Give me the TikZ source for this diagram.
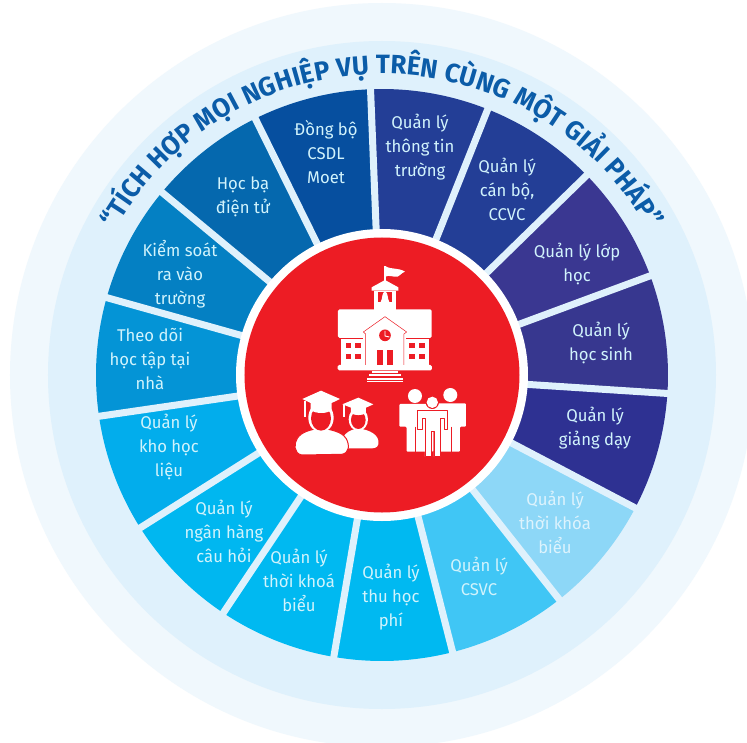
\documentclass[tikz,border=0pt]{standalone}
\usepackage{fontspec}
\usetikzlibrary{decorations.text}
\setmainfont{Fira Sans}
\newfontfamily\labfont[FakeStretch=0.98]{Fira Sans}
\newfontfamily\titlefont[FakeStretch=0.98]{Fira Sans}
\definecolor{ringA}{HTML}{F0F8FD}
\definecolor{ringB}{HTML}{DFF1FC}
\definecolor{redc}{HTML}{ED1C24}
\definecolor{titlec}{HTML}{0B5CA8}
\definecolor{c0}{HTML}{233E96}
\definecolor{c1}{HTML}{233E96}
\definecolor{c2}{HTML}{3A3791}
\definecolor{c3}{HTML}{37378F}
\definecolor{c4}{HTML}{2E3192}
\definecolor{c5}{HTML}{8DD7F7}
\definecolor{c6}{HTML}{40C6F5}
\definecolor{c7}{HTML}{00B9F1}
\definecolor{c8}{HTML}{00B9F1}
\definecolor{c9}{HTML}{00B7F0}
\definecolor{c10}{HTML}{02ADEC}
\definecolor{c11}{HTML}{0494D6}
\definecolor{c12}{HTML}{0480C3}
\definecolor{c13}{HTML}{0568AE}
\definecolor{c14}{HTML}{064F9F}
\tikzset{
  lab/.style={text=#1,font=\labfont\fontsize{17}{24}\selectfont,align=center,inner sep=0pt},
  lab/.default={white!82!c7},
  ico/.style={fill=white,draw=none},
  icored/.style={fill=redc,draw=none}
}
\begin{document}
\begin{tikzpicture}[x=1pt,y=1pt]
\path[use as bounding box,fill=white] (-382,-367) rectangle (365,375);
\begin{scope}
\clip (-382,-367) rectangle (365,375);
\fill[ringA] (0,0) circle (372);
\fill[ringB] (0,0) circle (334);
\end{scope}
% wedges
\foreach \k in {0,...,14}{
  \pgfmathsetmacro{\sa}{92.3-24*\k}
  \pgfmathsetmacro{\ea}{\sa-24}
  \fill[c\k] (0,0) -- (\sa:286) arc[start angle=\sa,end angle=\ea,radius=286] -- cycle;
}
\foreach \k in {0,...,14}{
  \pgfmathsetmacro{\sa}{92.3-24*\k}
  \draw[ringB,line width=7pt] (0,0) -- (\sa:290);
}
\fill[white] (0,0) circle (146);
\fill[redc] (0,0) circle (137.5);
% title
\path[postaction={decorate,decoration={text along path,text align={fit to path},
  text color=titlec,
  text={|\titlefont\bfseries\fontsize{26.5}{30}\selectfont|“TÍCH HỢP MỌI NGHIỆP VỤ TRÊN CÙNG MỘT GIẢI PHÁP”}}}]
  (0,-5) ++(150.5:306) arc[start angle=150.5,end angle=29.5,radius=306];
% labels: image px (x,y) -> (x-382,375-y)
\node[lab] (l14) at (-56,223) {Đồng bộ\\CSDL\\Moet};
\node[lab] (l0) at (38,228) {Quản lý\\thông tin\\trường};
\node[lab] (l1) at (125,186) {Quản lý\\cán bộ,\\CCVC};
\node[lab] (l2) at (195,111) {Quản lý lớp\\học};
\node[lab] (l3) at (219,32) {Quản lý\\học sinh};
\node[lab] (l4) at (213,-53) {Quản lý\\giảng dạy};
\node[lab={white!70!c5}] (l5) at (173,-147) {Quản lý\\thời khóa\\biểu};
\node[lab] (l6) at (97,-201) {Quản lý\\CSVC};
\node[lab] (l7) at (9,-222) {Quản lý\\thu học\\phí};
\node[lab] (l8) at (-83,-205) {Quản lý\\thời khoá\\biểu};
\node[lab] (l9) at (-158,-156) {Quản lý\\ngân hàng\\câu hỏi};
\node[lab] (l10) at (-213,-72) {Quản lý\\kho học\\liệu};
\node[lab] (l11) at (-232,16) {Theo dõi\\học tập tại\\nhà};
\node[lab] (l12) at (-202,101) {Kiểm soát\\ra vào\\trường};
\node[lab] (l13) at (-139,178) {Học bạ\\điện tử};
% school icon (crop units)
\begin{scope}[shift={(-52pt,115pt)},x=0.3333pt,y=-0.3333pt]
  \fill[ico] (163,18) rectangle (167,64);
  \fill[ico] (165,18) .. controls (185,30) and (205,22) .. (225,35) .. controls (212,40) and (210,48) .. (203,50) .. controls (190,52) and (178,44) .. (165,50) -- cycle;
  \fill[ico] (125,82) -- (165,60) -- (205,82) -- (205,92) -- (125,92) -- cycle;
  \fill[ico] (133,92) rectangle (197,170);
  \fill[icored] (143,95) rectangle (187,126);
  \fill[ico] (152,126) .. controls (158,118) and (155,95) .. (165,95) .. controls (175,95) and (172,118) .. (178,126) -- cycle;
  \fill[ico,rounded corners=1.5pt] (24,148) rectangle (305,234);
  \fill[ico] (33,234) rectangle (296,317);
  \fill[ico,rounded corners=1.5pt] (23,315) rectangle (306,331);
  \draw[redc,line width=0.4pt] (33,234) -- (100,234) (229,234) -- (296,234);
  \draw[redc,line width=0.5pt,line join=round] (107,315) -- (107,222) -- (100,216) -- (165,170) -- (230,216) -- (222,222) -- (222,315);
  \foreach \x in {47,76,238,267}{\foreach \y in {248,281}{
    \fill[icored] (\x,\y) rectangle ++(17,17);}}
  \fill[icored] (140,270) rectangle (158,316);
  \fill[icored] (170,270) rectangle (190,316);
  \fill[icored] (165,226) circle (17.5);
  \draw[white,line width=0.9pt] (165,213) -- (165,228) -- (178,231);
  \fill[ico] (125,333) rectangle (205,339);
  \fill[ico] (118,343) rectangle (212,349);
  \fill[ico] (110,353) rectangle (220,366);
  \draw[redc,line width=0.4pt] (112,359.5) -- (218,359.5);
\end{scope}
% students and people (crop units)
\begin{scope}[shift={(-92pt,-10pt)},x=0.3333pt,y=-0.3333pt]
  % small student
  \fill[ico] (155,190) .. controls (150,150) and (175,135) .. (205,130) .. controls (240,135) and (270,150) .. (265,178) .. controls (262,190) and (250,190) .. (240,190) -- cycle;
  \fill[ico] (205,103) ellipse (29 and 35);
  \fill[icored] (205,105) ellipse (22 and 27);
  \fill[ico] (157,58) -- (205,38) -- (250,58) -- (228,68) -- (228,85) .. controls (215,92) and (195,92) .. (183,85) -- (183,68) -- cycle;
  \fill[ico] (160,60) rectangle (165,95);
  % big student
  \fill[white,draw=redc,line width=1pt] (35,210) .. controls (10,205) and (12,175) .. (22,160) .. controls (35,140) and (60,135) .. (93,128) .. controls (125,135) and (155,140) .. (168,160) .. controls (180,180) and (178,205) .. (155,208) -- cycle;
  \fill[ico] (93,98) ellipse (38 and 45);
  \fill[icored] (93,100) ellipse (30 and 37);
  \fill[ico] (37,42) -- (93,17) -- (150,42) -- (125,54) -- (125,75) .. controls (110,87) and (78,87) .. (62,75) -- (62,54) -- cycle;
  \fill[ico] (41,48) rectangle (47,95);
  % people
  \fill[ico] (375,33) circle (21);
  \fill[ico] (481,30) circle (21);
  \fill[ico,rounded corners=1pt] (328,57) -- (430,57) -- (430,200) -- (350,200) -- (350,125) -- (328,125) -- cycle;
  \fill[ico,rounded corners=1pt] (425,55) -- (528,55) -- (528,125) -- (510,125) -- (510,200) -- (440,200) -- cycle;
  \draw[redc,line width=0.5pt] (375,125) -- (375,200) (483,125) -- (483,200);
  \fill[redc] (427,52) circle (20);
  \fill[ico] (427,52) circle (17);
  \fill[white,draw=redc,line width=0.7pt,line join=round] (382,75) -- (473,75) -- (473,132) -- (462,132) -- (462,100) -- (452,100) -- (452,215) -- (432,215) -- (432,140) -- (424,140) -- (424,215) -- (405,215) -- (405,100) -- (396,100) -- (396,132) -- (382,132) -- cycle;
\end{scope}
\end{tikzpicture}
\end{document}
